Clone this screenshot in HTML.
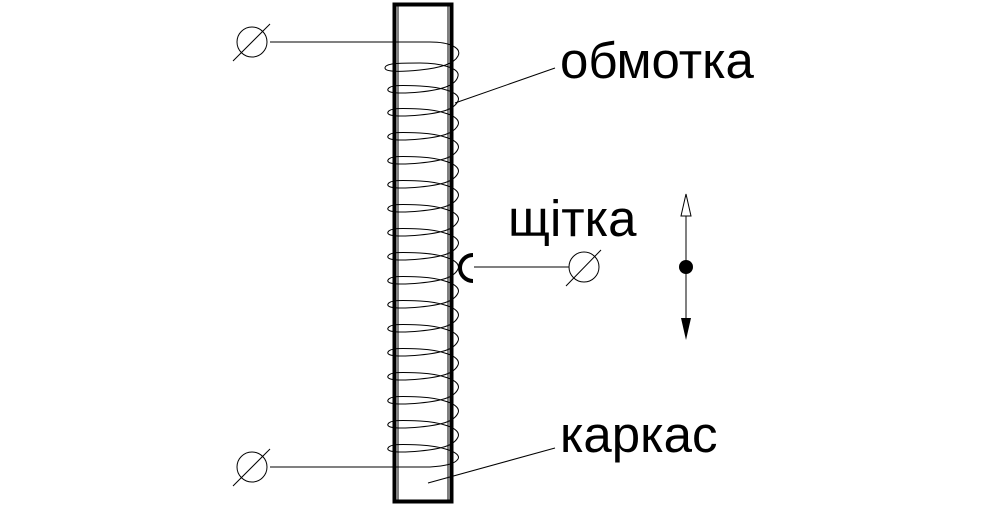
<!DOCTYPE html>
<html><head><meta charset="utf-8"><style>
html,body{margin:0;padding:0;background:#fff;}
svg{display:block}
text{font-family:"Liberation Sans",sans-serif;font-size:51px;fill:#000}
</style></head><body>
<svg width="988" height="506" viewBox="0 0 988 506" xmlns="http://www.w3.org/2000/svg">
<rect x="394.5" y="4.5" width="57" height="497" fill="none" stroke="#000" stroke-width="4"/>
<line x1="398" y1="6" x2="398" y2="500" stroke="#000" stroke-width="1"/>
<line x1="448" y1="6" x2="448" y2="500" stroke="#000" stroke-width="1"/>
<path fill="none" stroke="#000" stroke-width="1" d="
M 270,42 L 430,42 C 450,42 462,48 458,56 C 454,64 440,68 420,70 C 400,72 385,72 385,68 C 385,63 400,63 420,63
C 440,63 460,68 458,76 C 456,86 440,90 420,92 C 398,94 386,93 388,89 C 390,85 400,85 420,86
C 440,87 462,92 458,101 C 454,110 440,113 420,115 C 398,117 386,116 388,112 C 390,108 400,108 420,109
C 440,110 462,116 458,125 C 454,134 440,137 420,139 C 398,141 386,140 388,136 C 390,132 400,132 420,133
C 440,134 462,140 458,149 C 454,158 440,161 420,163 C 398,165 386,164 388,160 C 390,156 400,156 420,157
C 440,158 462,164 458,173 C 454,182 440,185 420,187 C 398,189 386,188 388,184 C 390,180 400,180 420,181
C 440,182 462,188 458,197 C 454,206 440,209 420,211 C 398,213 386,212 388,208 C 390,204 400,204 420,205
C 440,206 462,212 458,221 C 454,230 440,233 420,235 C 398,237 386,236 388,232 C 390,228 400,228 420,229
C 440,230 462,236 458,245 C 454,254 440,257 420,259 C 398,261 386,260 388,256 C 390,252 400,252 420,253
C 440,254 462,260 458,269 C 454,278 440,281 420,283 C 398,285 386,284 388,280 C 390,276 400,276 420,277
C 440,278 462,284 458,293 C 454,302 440,305 420,307 C 398,309 386,308 388,304 C 390,300 400,300 420,301
C 440,302 462,308 458,317 C 454,326 440,329 420,331 C 398,333 386,332 388,328 C 390,324 400,324 420,325
C 440,326 462,332 458,341 C 454,350 440,353 420,355 C 398,357 386,356 388,352 C 390,348 400,348 420,349
C 440,350 462,356 458,365 C 454,374 440,377 420,379 C 398,381 386,380 388,376 C 390,372 400,372 420,373
C 440,374 462,380 458,389 C 454,398 440,401 420,403 C 398,405 386,404 388,400 C 390,396 400,396 420,397
C 440,398 462,404 458,413 C 454,422 440,425 420,427 C 398,429 386,428 388,424 C 390,420 400,420 420,421
C 440,422 462,428 458,437 C 454,446 440,449 420,451 C 398,453 386,452 388,448 C 390,444 400,444 420,445
C 440,446 462,452 458,459 C 455,464 445,466 430,467 L 270,467"/>
<g fill="none" stroke="#000" stroke-width="1">
<circle cx="252" cy="42" r="15"/><line x1="233" y1="61" x2="270" y2="24"/>
<circle cx="252" cy="467" r="15"/><line x1="233" y1="486" x2="270" y2="449"/>
<circle cx="584" cy="267" r="15"/><line x1="566" y1="286" x2="601" y2="250"/>
<line x1="474" y1="267" x2="569" y2="267"/>
<line x1="555" y1="68" x2="455" y2="103"/>
<line x1="555" y1="448" x2="428" y2="483"/>
<line x1="686" y1="205" x2="686" y2="330"/>
</g>
<path d="M 473,255 A 13 13 0 0 0 473,281" fill="none" stroke="#000" stroke-width="4"/>
<circle cx="686" cy="267" r="7" fill="#000"/>
<path d="M686,194 L681,216 L691,216 Z" fill="#fff" stroke="#000" stroke-width="1"/>
<path d="M686,340 L681,318 L691,318 Z" fill="#000"/>
<text x="560" y="78">обмотка</text>
<text x="508" y="236">щітка</text>
<text x="560" y="452">каркас</text>
</svg>
</body></html>
